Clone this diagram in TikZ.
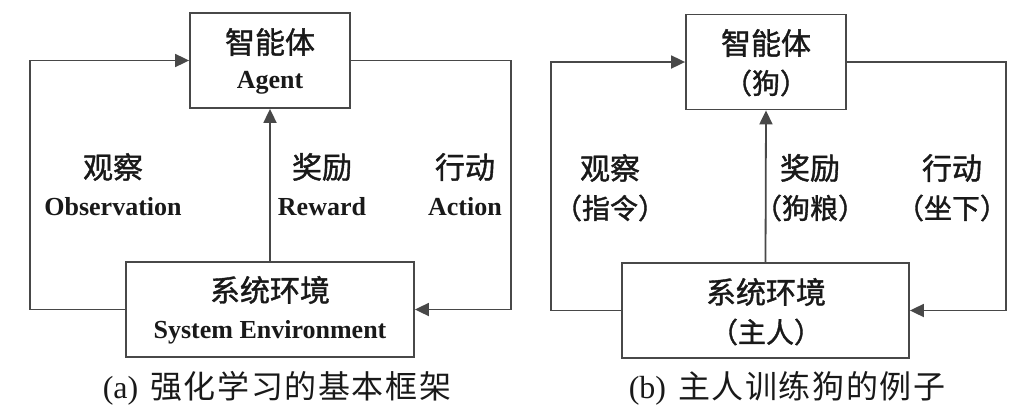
\documentclass[tikz,border=0pt]{standalone}
\usepackage{fontspec}
\setmainfont{Liberation Serif}
\newfontfamily\cjk[FakeBold=1.3]{Noto Sans CJK SC}
\newfontfamily\cjkcap[LetterSpace=5]{Noto Sans CJK SC}
\usetikzlibrary{arrows.meta}
\definecolor{ln}{RGB}{72,72,72}
\definecolor{txt}{RGB}{25,25,25}
\begin{document}
\begin{tikzpicture}[x=1pt,y=-1pt,
  every node/.style={text=txt, inner sep=0pt},
  boxnode/.style={draw=ln, line width=1.8pt, minimum height=95pt},
  conn/.style={draw=ln, line width=1.8pt},
  arr/.style={conn, -{Triangle[length=14pt,width=13pt]}},
  zh/.style={font=\cjk\fontsize{30}{30}\selectfont},
  zhsub/.style={font=\cjk\fontsize{28}{28}\selectfont},
  en/.style={font=\bfseries\fontsize{26}{26}\selectfont},
  captext/.style={font=\fontsize{32}{32}\selectfont}]
\useasboundingbox (0,0) rectangle (1026,418);
% ---- panel (a)
\node[boxnode, minimum width=160pt] (agA) at (270,60.5) {};
\node[boxnode, minimum width=288pt] (envA) at (270,309.5) {};
\node[zh] (agAzh) at (270,42) {智能体};
\node[en] (agAen) at (270,83) {Agent};
\node[zh] (envAzh) at (270,290) {系统环境};
\node[en] (envAen) at (270,332) {System Environment};
\draw[arr] (envA.west) -- ++(-95,0) |- (agA.west);
\draw[arr] (agA.east) -- ++(160,0) |- (envA.east);
\draw[arr] (envA.north) -- (agA.south);
\node[zh] (obsAzh) at (113,167) {观察};
\node[en] (obsAen) at (113,207) {Observation};
\node[zh] (rewAzh) at (322,167) {奖励};
\node[en] (rewAen) at (322,207) {Reward};
\node[zh] (actAzh) at (465,167) {行动};
\node[en] (actAen) at (465,207) {Action};
\node[captext] (capA) at (277,388) {(a)\hspace{12pt}{\cjkcap 强化学习的基本框架}};
% ---- panel (b)
\node[boxnode, minimum width=160pt] (agB) at (766,62) {};
\node[boxnode, minimum width=287pt] (envB) at (765.5,310.5) {};
\node[zh] (agBzh) at (766,43) {智能体};
\node[zhsub] (agBsub) at (766,83) {（狗）};
\node[zh] (envBzh) at (766,292) {系统环境};
\node[zhsub] (envBsub) at (766,332) {（主人）};
\draw[arr] (envB.west) -- ++(-70,0) |- (agB.west);
\draw[arr] (agB.east) -- ++(159,0) |- (envB.east);
\draw[arr] (envB.north) -- (agB.south);
\node[zh] (obsBzh) at (610,168) {观察};
\node[zhsub] (obsBsub) at (610,208) {（指令）};
\node[zh] (rewBzh) at (810,168) {奖励};
\node[zhsub] (rewBsub) at (810,208) {（狗粮）};
\node[zh] (actBzh) at (952,168) {行动};
\node[zhsub] (actBsub) at (952,208) {（坐下）};
\node[captext] (capB) at (787,388) {(b)\hspace{12pt}{\cjkcap 主人训练狗的例子}};
\end{tikzpicture}
\end{document}
